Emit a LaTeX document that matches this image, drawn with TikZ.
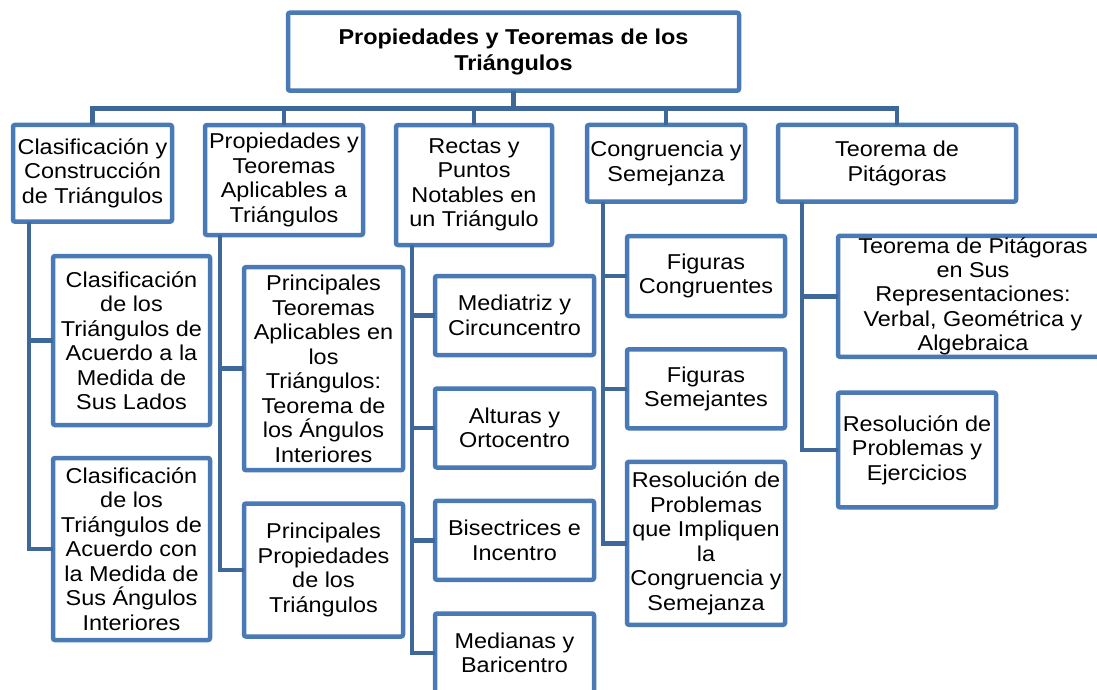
\documentclass[tikz,border=0pt]{standalone}
\usepackage{fontspec}
\setmainfont{Liberation Sans}[FakeStretch=1.09]
\usepackage{tikz}
\usetikzlibrary{calc}

\definecolor{boxblue}{RGB}{74,122,181}
\definecolor{lineblue}{RGB}{62,103,154}

\begin{document}
\begin{tikzpicture}[x=1pt,y=-1pt,
    caja/.style={draw=boxblue,fill=white,line width=4.5pt,rounded corners=2pt,
      inner sep=0pt,outer sep=0pt,align=center,
      font=\fontsize{21.5}{24.5}\selectfont},
    titulo/.style={caja,font=\fontsize{21.5}{25.7}\selectfont\bfseries},
    enlace/.style={draw=lineblue,line width=4.5pt}]
    \useasboundingbox (0,0) rectangle (1097,689);
    \clip (0,0) rectangle (1097,689);
    \coordinate (bus) at (0,108.3);
    \coordinate (k1) at (29,221.7);
    \coordinate (k2) at (220,235);
    \coordinate (k3) at (412,245);
    \coordinate (k4) at (603,201.7);
    \coordinate (k5) at (802,201.7);
      % raiz
      \node [titulo,minimum width=451,minimum height=78] (top) at (513.5,51.7)
        {Propiedades y Teoremas de los\\Triángulos};
      % primer nivel
      \node [caja,minimum width=159,minimum height=96.7] (c1) at (92.5,173.3)
        {Clasificación y\\Construcción\\de Triángulos};
      \node [caja,minimum width=158,minimum height=110] (c2) at (284,180)
        {Propiedades y\\Teoremas\\Aplicables a\\Triángulos};
      \node [caja,minimum width=156,minimum height=120] (c3) at (474,185)
        {Rectas y\\Puntos\\Notables en\\un Triángulo};
      \node [caja,minimum width=158,minimum height=76.7] (c4) at (666,163.3)
        {Congruencia y\\Semejanza};
      \node [caja,minimum width=238,minimum height=76.7] (c5) at (897,163.3)
        {Teorema de\\Pitágoras};
      % segundo nivel
      \node [caja,minimum width=157,minimum height=169] (a1) at (131.5,340.5)
        {Clasificación\\de los\\Triángulos de\\Acuerdo a la\\Medida de\\Sus Lados};
      \node [caja,minimum width=157,minimum height=182] (a2) at (131.5,549)
        {Clasificación\\de los\\Triángulos de\\Acuerdo con\\la Medida de\\Sus Ángulos\\Interiores};
      \node [caja,minimum width=159,minimum height=203] (b1) at (323.5,368.7)
        {Principales\\Teoremas\\Aplicables en\\los\\Triángulos:\\Teorema de\\los Ángulos\\Interiores};
      \node [caja,minimum width=159,minimum height=133] (b2) at (323.5,570)
        {Principales\\Propiedades\\de los\\Triángulos};
      \node [caja,minimum width=159,minimum height=79] (r1) at (514.5,315.5)
        {Mediatriz y\\Circuncentro};
      \node [caja,minimum width=159,minimum height=79] (r2) at (514.5,428)
        {Alturas y\\Ortocentro};
      \node [caja,minimum width=159,minimum height=79] (r3) at (514.5,540.3)
        {Bisectrices e\\Incentro};
      \node [caja,minimum width=159,minimum height=79] (r4) at (514.5,653)
        {Medianas y\\Baricentro};
      \node [caja,minimum width=158,minimum height=80] (g1) at (706,276)
        {Figuras\\Congruentes};
      \node [caja,minimum width=158,minimum height=79] (g2) at (706,388.8)
        {Figuras\\Semejantes};
      \node [caja,minimum width=158,minimum height=163] (g3) at (706,543.3)
        {Resolución de\\Problemas\\que Impliquen\\la\\Congruencia y\\Semejanza};
      \node [caja,minimum width=270,minimum height=121,
        font=\fontsize{21.5}{24.2}\selectfont] (p1) at (973,296.3)
        {Teorema de Pitágoras\\en Sus\\Representaciones:\\Verbal, Geométrica y\\Algebraica};
      \node [caja,minimum width=158,minimum height=114.6] (p2) at (917,450)
        {Resolución de\\Problemas y\\Ejercicios};
      % conectores
      \foreach \c in {c1,c2,c3,c4,c5}
        \draw [enlace] (top.south) -- (top.south |- bus) -| (\c.north);
      \draw [enlace] (k1) |- (a1.west);
      \draw [enlace] (k1) |- (a2.west);
      \draw [enlace] (k2) |- (b1.west);
      \draw [enlace] (k2) |- (b2.west);
      \draw [enlace] (k3) |- (r1.west);
      \draw [enlace] (k3) |- (r2.west);
      \draw [enlace] (k3) |- (r3.west);
      \draw [enlace] (k3) |- (r4.west);
      \draw [enlace] (k4) |- (g1.west);
      \draw [enlace] (k4) |- (g2.west);
      \draw [enlace] (k4) |- (g3.west);
      \draw [enlace] (k5) |- (p1.west);
      \draw [enlace] (k5) |- (p2.west);
  \end{tikzpicture}
\end{document}
